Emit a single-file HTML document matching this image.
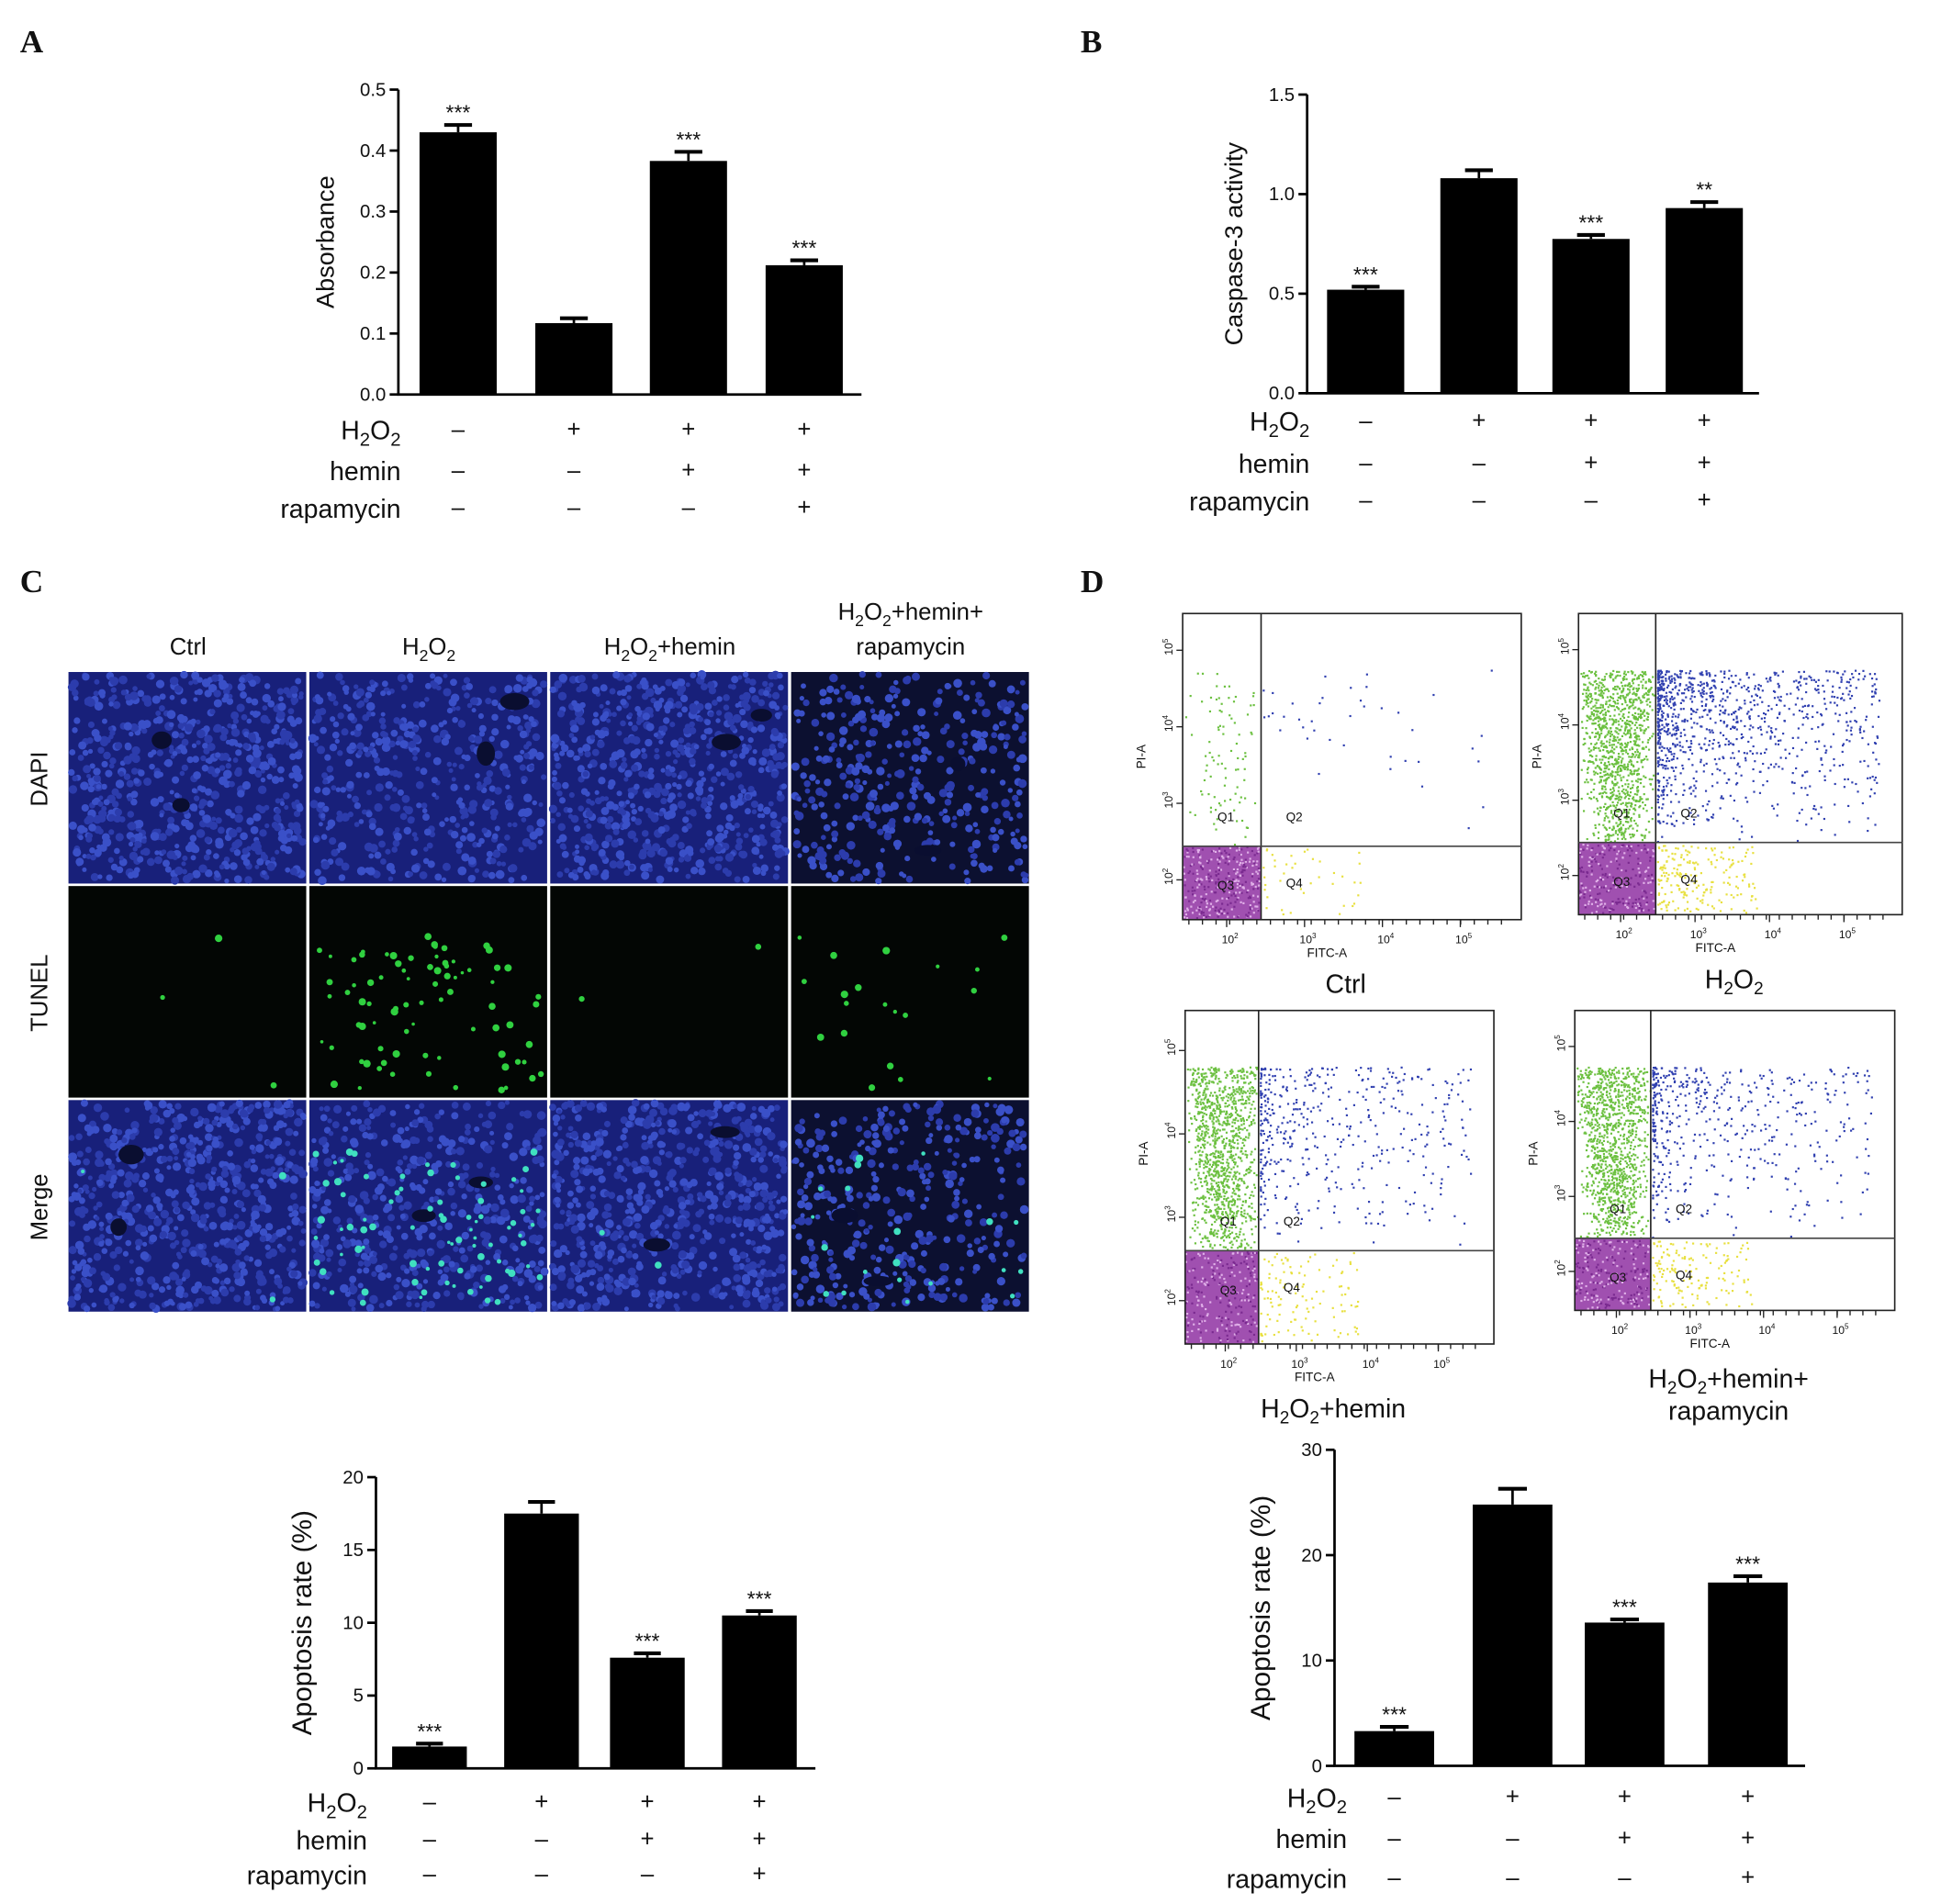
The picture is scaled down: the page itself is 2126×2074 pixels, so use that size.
<!DOCTYPE html>
<html><head><meta charset="utf-8"><style>
html,body{margin:0;padding:0;background:#fff;}
svg{display:block;}
text{font-family:"Liberation Sans",sans-serif;fill:#111;}
.pl{font-family:"Liberation Serif",serif;font-weight:bold;font-size:26px;}
</style></head><body>
<svg id="fig" width="2126" height="2074" viewBox="0 0 1568 1530" preserveAspectRatio="none" xmlns="http://www.w3.org/2000/svg">
<text class="pl" x="16" y="42">A</text>
<text class="pl" x="868" y="42">B</text>
<text class="pl" x="16" y="476">C</text>
<text class="pl" x="868" y="476">D</text>
<g id="charts"></g>
<g id="micro"></g>
<g id="flow"></g>
</svg>
<script>
// Panel A data
const aValues=[0.43,0.117,0.383,0.212];
const aErrors=[0.012,0.008,0.015,0.008];
const aStars=["***","","***","***"];
const aTicks=["0.0","0.1","0.2","0.3","0.4","0.5"];
// Panel B data
const bValues=[0.52,1.08,0.775,0.93];
const bErrors=[0.015,0.04,0.02,0.03];
const bStars=["***","","***","**"];
const bTicks=["0.0","0.5","1.0","1.5"];
// Panel C bar data
const cValues=[1.5,17.5,7.6,10.5];
const cErrors=[0.2,0.8,0.3,0.3];
const cStars=["***","","***","***"];
const cTicks=["0","5","10","15","20"];
// Panel D bar data
const dValues=[3.3,24.8,13.6,17.4];
const dErrors=[0.4,1.5,0.3,0.6];
const dStars=["***","","***","***"];
const dTicks=["0","10","20","30"];
// treatment rows
const rowNames=["H2O2","hemin","rapamycin"];
const rowSigns=[["–","+","+","+"],["–","–","+","+"],["–","–","–","+"]];

const NS="http://www.w3.org/2000/svg";
function mk(parent,tag,attrs){const e=document.createElementNS(NS,tag);for(const k in attrs)e.setAttribute(k,attrs[k]);parent.appendChild(e);return e;}

function bar(id,values,errors,stars,ticks,tmax,ax,y0,ytop,xend,centers,bw,title,rowY,labelX,tfs){
  const g=mk(document.getElementById('charts'),'g',{});
  
  
  const ys=v=>y0-(v/tmax)*(y0-ytop);
  const ax1=mk(g,'line',{x1:ax,y1:ytop,x2:ax,y2:y0,stroke:'#000','stroke-width':2});
  
  const ax2=mk(g,'line',{x1:ax-1,y1:y0,x2:xend,y2:y0,stroke:'#000','stroke-width':2});
  
  ticks.forEach((t,i)=>{const v=tmax*i/(ticks.length-1);const y=ys(v);
    mk(g,'line',{x1:ax-7,y1:y,x2:ax,y2:y,stroke:'#000','stroke-width':2});
    const tx=mk(g,'text',{x:ax-10,y:y+5,'text-anchor':'end','font-size':15});tx.textContent=t;
    });
  const tt=mk(g,'text',{transform:`translate(${ax-52},${(y0+ytop)/2}) rotate(-90)`,'text-anchor':'middle','font-size':tfs});
  tt.textContent=title;
  values.forEach((v,i)=>{const c=centers[i];
    const r=mk(g,'rect',{x:c-bw/2,y:ys(v),width:bw,height:y0-ys(v),fill:'#000'});
    
    const ye=ys(v+errors[i]);
    mk(g,'line',{x1:c,y1:ys(v),x2:c,y2:ye,stroke:'#000','stroke-width':2});
    mk(g,'line',{x1:c-bw*0.18,y1:ye,x2:c+bw*0.18,y2:ye,stroke:'#000','stroke-width':3});
    if(stars[i]){const s=mk(g,'text',{x:c,y:ye-4,'text-anchor':'middle','font-size':17});s.textContent=stars[i];
      }
    rowSigns.forEach((row,j)=>{const s=mk(g,'text',{x:c,y:rowY[j]+6,'text-anchor':'middle','font-size':19});s.textContent=row[i];});
  });
  rowNames.forEach((n,j)=>{const t=mk(g,'text',{x:labelX,y:rowY[j]+8,'text-anchor':'end','font-size':21});
    
    if(n==='H2O2'){t.innerHTML='H<tspan font-size="15" dy="5">2</tspan><tspan dy="-5">O</tspan><tspan font-size="15" dy="5">2</tspan>';}else t.textContent=n;});
}
bar('absorbance',aValues,aErrors,aStars,aTicks,0.5,320,317,72,692,[368,461,553,646],62,'Absorbance',[345,378,408],322,20);
bar('caspase',bValues,bErrors,bStars,bTicks,1.5,1050,316,76,1413,[1097,1188,1278,1369],62,'Caspase-3 activity',[338,372,402],1052,20);
bar('tunel-apoptosis',cValues,cErrors,cStars,cTicks,20,302,1421,1187,655,[345,435,520,610],60,'Apoptosis rate (%)',[1448,1478,1506],295,22);
bar('flow-apoptosis',dValues,dErrors,dStars,dTicks,30,1072,1419,1165,1450,[1120,1215,1305,1404],64,'Apoptosis rate (%)',[1444,1477,1509],1082,22);

// seeded rng for image textures
let seed=12345;function rnd(){seed=(seed*1103515245+12345)%2147483648;return seed/2147483648;}

// Panel C micrographs
const micro=document.getElementById('micro');
const rowN=['DAPI','TUNEL','Merge'];
const density=[1,0.7,1,0.55];
const greenN=[3,80,2,20];
for(let c=0;c<4;c++){
  const x0=55+c*193.5;
  const h=mk(micro,'text',{x:x0+96,y:c===3?498:526,'text-anchor':'middle','font-size':19});
  
  if(c===0)h.textContent='Ctrl';
  else if(c===1)h.innerHTML='H<tspan font-size="13" dy="5">2</tspan><tspan dy="-5">O</tspan><tspan font-size="13" dy="5">2</tspan>';
  else if(c===2)h.innerHTML='H<tspan font-size="13" dy="5">2</tspan><tspan dy="-5">O</tspan><tspan font-size="13" dy="5">2</tspan><tspan dy="-5">+hemin</tspan>';
  else{h.innerHTML='H<tspan font-size="13" dy="5">2</tspan><tspan dy="-5">O</tspan><tspan font-size="13" dy="5">2</tspan><tspan dy="-5">+hemin+</tspan>';
    const h2=mk(micro,'text',{x:x0+96,y:526,'text-anchor':'middle','font-size':19});h2.textContent='rapamycin';}
  for(let r=0;r<3;r++){
    const y0=540+r*172;
    const bg=mk(micro,'rect',{x:x0,y:y0,width:191,height:170,fill:r===1?'#030604':(c===3?'#0c1030':'#18207a')});
    
    if(r!==1){
      const n=Math.floor(650*density[c]);
      for(let k=0;k<n;k++){mk(micro,'circle',{cx:x0+2+rnd()*187,cy:y0+2+rnd()*166,r:1.8+rnd()*1.8,fill:rnd()<0.5?'#3a50c8':'#2c3cac'});}
      for(let k=0;k<2;k++){mk(micro,'ellipse',{cx:x0+20+rnd()*150,cy:y0+20+rnd()*130,rx:5+rnd()*7,ry:4+rnd()*6,fill:'#0a0e30'});}
    }
    if(r>0){for(let k=0;k<greenN[c];k++){mk(micro,'circle',{cx:x0+5+rnd()*181,cy:y0+40+rnd()*125,r:1.3+rnd()*1.8,fill:r===1?'#30d040':'#40e0c0'});}}
  }
}
['DAPI','TUNEL','Merge'].forEach((n,r)=>{const t=mk(micro,'text',{transform:`translate(38,${626+r*172}) rotate(-90)`,'text-anchor':'middle','font-size':19});t.textContent=n;
  });

// Panel D flow plots
const flow=document.getElementById('flow');
const plots=[
 {x1:950,y1:493,x2:1222,y2:739,gx:1013,gy:680,n:[90,40,900,40]},
 {x1:1268,y1:493,x2:1528,y2:735,gx:1330,gy:677,n:[1100,1000,700,200]},
 {x1:952,y1:812,x2:1200,y2:1080,gx:1011,gy:1005,n:[1100,450,700,120]},
 {x1:1265,y1:812,x2:1522,y2:1053,gx:1326,gy:995,n:[1100,500,700,150]}];
plots.forEach((p,i)=>{
  const g=mk(flow,'g',{});
  
  const q=p.n, H=p.gy-p.y1-45;
  for(let k=0;k<q[0];k++){const f=Math.pow(rnd(),0.8);const y=p.gy-f*H;const xx=p.x1+1+rnd()*(p.gx-p.x1-2)*(0.4+0.6*f);mk(g,'rect',{x:xx+(p.gx-p.x1)*0.6*(1-f)*rnd(),y:y,width:1.6,height:1.6,fill:'#6cc040'});}
  for(let k=0;k<q[1];k++){const f=Math.pow(rnd(),0.5);const y=p.gy-H*f;mk(g,'rect',{x:p.gx+1+Math.pow(rnd(),2)*(p.x2-p.gx-20),y:y,width:1.6,height:1.6,fill:'#3040b0'});}
  mk(g,'rect',{x:p.x1,y:p.gy,width:p.gx-p.x1,height:p.y2-p.gy,fill:'#a050b0'});
  for(let k=0;k<q[2]/3;k++){mk(g,'rect',{x:p.x1+rnd()*(p.gx-p.x1-2),y:p.gy+rnd()*(p.y2-p.gy-2),width:1.6,height:1.6,fill:rnd()<0.5?'#7a2a90':'#e0b0e8'});}
  for(let k=0;k<q[3];k++){mk(g,'rect',{x:p.gx+1+Math.pow(rnd(),1.5)*80,y:p.gy+1+rnd()*(p.y2-p.gy-3),width:1.6,height:1.6,fill:'#e8e040'});}
  mk(g,'rect',{x:p.x1,y:p.y1,width:p.x2-p.x1,height:p.y2-p.y1,fill:'none',stroke:'#222','stroke-width':1.2});
  mk(g,'line',{x1:p.gx,y1:p.y1,x2:p.gx,y2:p.y2,stroke:'#222','stroke-width':1.2});
  mk(g,'line',{x1:p.x1,y1:p.gy,x2:p.x2,y2:p.gy,stroke:'#444','stroke-width':1.2});
  [['Q1',p.x1+28,p.gy-20],['Q2',p.gx+20,p.gy-20],['Q3',p.x1+28,p.gy+35],['Q4',p.gx+20,p.gy+33]].forEach(a=>{const t=mk(g,'text',{x:a[1],y:a[2],'font-size':10});t.textContent=a[0];});
  const w=p.x2-p.x1;
  for(let d=2;d<=5;d++){const xx=p.x1+w*(0.13+(d-2)*0.23);
    mk(g,'line',{x1:xx,y1:p.y2,x2:xx,y2:p.y2+6,stroke:'#222'});
    const t=mk(g,'text',{x:xx-4,y:p.y2+19,'font-size':9});t.innerHTML='10<tspan font-size="6" dy="-4">'+d+'</tspan>';
    const yy=p.y2-(p.y2-p.y1)*(0.13+(d-2)*0.25);
    mk(g,'line',{x1:p.x1-5,y1:yy,x2:p.x1,y2:yy,stroke:'#222'});
    const t2=mk(g,'text',{transform:`translate(${p.x1-8},${yy+4}) rotate(-90)`,'font-size':9});t2.innerHTML='10<tspan font-size="6" dy="-4">'+d+'</tspan>';}
  for(let k=0;k<24;k++){const xx=p.x1+5+k*(w-10)/24;mk(g,'line',{x1:xx,y1:p.y2,x2:xx,y2:p.y2+4,stroke:'#222'});}
  const fx=mk(g,'text',{x:(p.x1+p.x2)/2-20,y:p.y2+30,'font-size':10,'text-anchor':'middle'});fx.textContent='FITC-A';
  const fy=mk(g,'text',{transform:`translate(${p.x1-30},${p.y1+115}) rotate(-90)`,'font-size':10,'text-anchor':'middle'});fy.textContent='PI-A';
  const cx=(p.x1+p.x2)/2-5, ly=p.y2+59;
  const t=mk(g,'text',{x:cx,y:ly,'text-anchor':'middle','font-size':21});
  
  const h2o2='H<tspan font-size="14" dy="5">2</tspan><tspan dy="-5">O</tspan><tspan font-size="14" dy="5">2</tspan>';
  if(i===0)t.textContent='Ctrl';
  else if(i===1)t.innerHTML=h2o2;
  else if(i===2)t.innerHTML=h2o2+'<tspan dy="-5">+hemin</tspan>';
  else{t.setAttribute('y',p.y2+62);t.innerHTML=h2o2+'<tspan dy="-5">+hemin+</tspan>';const t3=mk(g,'text',{x:cx,y:p.y2+88,'text-anchor':'middle','font-size':21});t3.textContent='rapamycin';}
});
</script>
</body></html>
